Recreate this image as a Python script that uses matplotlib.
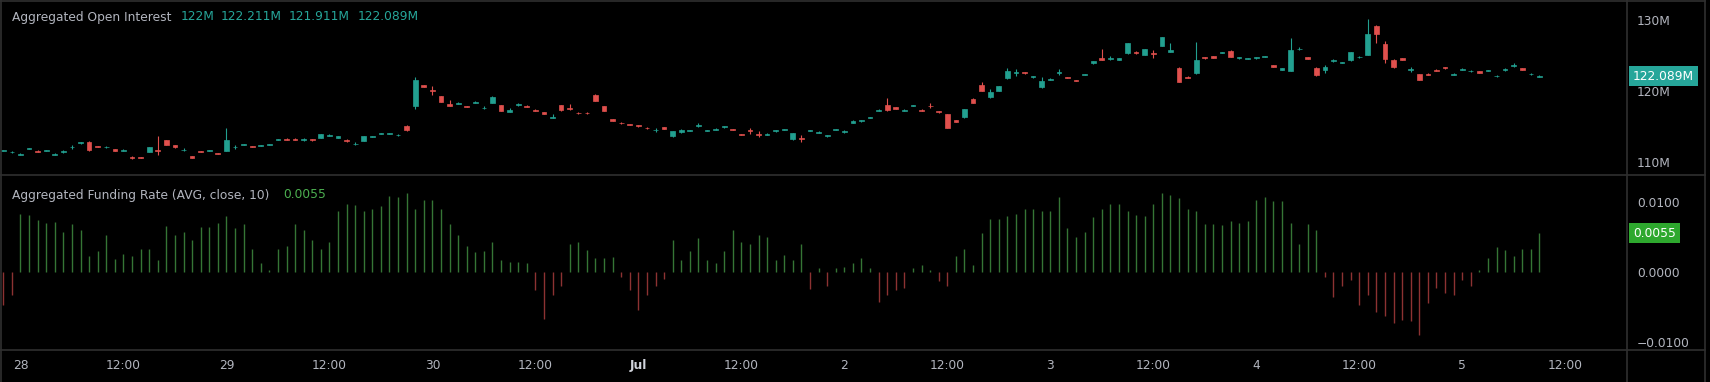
import pandas as pd
import matplotlib
matplotlib.use('Agg')
import matplotlib.pyplot as plt
import matplotlib.dates as mdates
import matplotlib.transforms as mtrans
from matplotlib.lines import Line2D

# hourly candles, first one 27 Jun 22:00
start_time = '2024-06-27 22:00'

# aggregated open interest, millions
oi_open = [
    111.55, 111.35, 111.05, 111.85, 111.6, 111.55, 111.05, 111.35, 112.05, 112.65,
    112.8, 112.25, 112.05, 111.8, 111.6, 110.75, 110.65, 111.45, 111.75, 113.05,
    112.35, 111.65, 110.85, 111.55, 111.55, 111.25, 111.6, 112.05, 112.45, 112.25,
    112.25, 112.45, 113.15, 113.3, 113.3, 113.15, 113.2, 113.4, 113.65, 113.45,
    113.15, 112.5, 113.0, 113.55, 113.95, 113.95, 113.75, 115.1, 117.9, 120.85,
    120.15, 119.3, 118.15, 118.2, 117.85, 118.3, 117.55, 118.3, 118.0, 117.1,
    118.0, 117.95, 117.35, 117.0, 116.25, 118.0, 117.65, 116.95, 116.95, 119.5,
    117.9, 116.05, 115.55, 115.35, 115.15, 114.85, 114.45, 114.9, 113.6, 114.2,
    114.35, 115.05, 114.35, 114.5, 114.9, 114.65, 113.95, 114.5, 114.0, 113.8,
    114.3, 114.55, 113.2, 113.35, 114.35, 114.15, 113.6, 114.55, 114.2, 115.55,
    115.75, 116.25, 117.25, 118.1, 117.7, 117.25, 117.9, 117.35, 117.95, 117.2,
    116.7, 115.9, 116.3, 118.9, 120.8, 119.1, 120.0, 121.8, 122.55, 122.65,
    121.95, 120.5, 121.6, 122.55, 121.95, 121.55, 122.25, 123.9, 124.6, 124.55,
    124.4, 125.3, 125.55, 125.1, 125.35, 126.4, 125.5, 123.3, 122.0, 122.5,
    124.8, 124.9, 125.35, 125.7, 124.6, 124.5, 124.6, 124.85, 123.65, 122.95,
    122.8, 125.85, 124.75, 123.3, 123.0, 124.2, 123.95, 124.3, 124.75, 125.1,
    129.2, 126.6, 124.4, 124.6, 122.95, 122.4, 122.45, 123.0, 123.4, 122.3,
    123.0, 122.75, 122.75, 122.8, 122.05, 122.95, 123.55, 123.2, 122.35, 122.0,
]
oi_high = [
    111.7, 111.5, 111.2, 112.0, 111.65, 111.7, 111.2, 111.65, 112.4, 112.8,
    112.9, 112.3, 112.2, 111.85, 111.8, 110.8, 110.7, 112.15, 113.6, 113.1,
    112.4, 112.0, 110.9, 111.6, 111.7, 111.3, 114.8, 112.4, 112.6, 112.3,
    112.4, 112.6, 113.3, 113.35, 113.35, 113.4, 113.25, 114.0, 113.9, 113.65,
    113.2, 112.8, 113.65, 113.7, 114.1, 114.1, 114.0, 115.2, 122.0, 120.9,
    120.7, 119.35, 118.7, 118.4, 117.9, 118.55, 117.9, 119.25, 118.05, 117.6,
    118.25, 118.0, 117.4, 117.05, 116.7, 118.05, 118.2, 117.0, 117.0, 119.55,
    117.95, 116.1, 115.6, 115.4, 115.2, 114.9, 114.8, 114.95, 114.35, 114.6,
    114.5, 115.5, 114.5, 114.75, 115.1, 114.7, 114.0, 114.8, 114.3, 114.05,
    114.55, 114.7, 114.15, 113.8, 114.5, 114.3, 113.85, 114.7, 114.45, 115.85,
    115.9, 116.4, 117.4, 119.0, 117.75, 117.4, 118.1, 117.4, 118.3, 117.25,
    116.75, 115.95, 117.45, 118.95, 121.2, 120.3, 120.75, 123.3, 123.1, 122.7,
    122.15, 122.0, 121.8, 123.1, 122.0, 121.6, 122.4, 124.25, 125.9, 124.9,
    124.65, 126.75, 125.6, 125.95, 125.8, 127.65, 126.8, 123.35, 122.05, 126.9,
    124.85, 124.95, 125.5, 125.75, 124.8, 124.7, 124.8, 125.0, 123.7, 123.25,
    127.5, 126.2, 124.8, 123.35, 123.6, 124.45, 124.1, 125.55, 124.9, 130.2,
    129.25, 127.0, 124.45, 124.65, 123.4, 122.45, 122.5, 123.05, 123.45, 122.5,
    123.2, 122.9, 122.8, 123.0, 122.2, 123.3, 123.9, 123.25, 122.6, 122.211,
]
oi_low = [
    111.5, 111.3, 111.0, 111.8, 111.35, 111.5, 111.0, 111.3, 111.9, 112.6,
    111.6, 112.1, 112.0, 111.55, 111.55, 110.45, 110.5, 111.4, 111.0, 112.35,
    112.0, 111.6, 110.5, 111.35, 111.5, 111.1, 111.5, 111.9, 112.4, 112.1,
    112.2, 112.4, 113.1, 113.05, 113.05, 113.0, 113.0, 113.35, 113.6, 113.4,
    112.85, 112.45, 112.95, 113.5, 113.9, 113.9, 113.7, 114.4, 117.4, 120.5,
    119.5, 118.45, 117.9, 118.15, 117.7, 118.25, 117.5, 118.25, 117.15, 117.05,
    117.95, 117.75, 117.2, 116.75, 116.2, 117.25, 117.35, 116.8, 116.8, 118.55,
    117.15, 115.75, 115.4, 115.2, 115.0, 114.7, 114.2, 114.65, 113.55, 114.15,
    114.3, 115.0, 114.3, 114.45, 114.85, 114.5, 113.8, 114.0, 113.5, 113.75,
    114.25, 114.5, 113.15, 112.8, 114.3, 114.1, 113.55, 114.5, 114.15, 115.5,
    115.7, 116.2, 117.2, 117.25, 117.45, 117.2, 117.85, 117.2, 117.6, 116.95,
    114.75, 115.65, 116.25, 118.25, 119.95, 119.05, 119.95, 121.75, 122.1, 122.45,
    121.9, 120.45, 121.55, 122.2, 121.8, 121.4, 122.2, 123.85, 124.35, 124.4,
    124.35, 125.25, 125.25, 125.05, 124.6, 126.35, 125.45, 121.25, 121.8, 122.45,
    124.55, 124.65, 125.3, 124.75, 124.55, 124.45, 124.55, 124.8, 123.35, 122.9,
    122.75, 125.8, 124.45, 122.15, 122.6, 124.15, 123.9, 124.25, 124.7, 125.05,
    126.8, 124.0, 123.3, 124.35, 122.7, 121.55, 122.25, 122.8, 123.15, 122.25,
    122.95, 122.7, 122.55, 122.75, 122.0, 122.8, 123.4, 122.95, 122.2, 121.911,
]
oi_close = [
    111.65, 111.45, 111.15, 111.95, 111.4, 111.65, 111.15, 111.6, 112.15, 112.75,
    111.65, 112.15, 112.15, 111.6, 111.75, 110.5, 110.55, 112.1, 111.55, 112.4,
    112.05, 111.75, 110.55, 111.4, 111.65, 111.15, 113.1, 112.15, 112.55, 112.15,
    112.35, 112.55, 113.25, 113.1, 113.1, 113.25, 113.05, 113.95, 113.75, 113.6,
    112.9, 112.55, 113.6, 113.65, 114.05, 114.05, 113.85, 114.5, 121.5, 120.55,
    120.05, 118.5, 117.95, 118.35, 117.75, 118.5, 117.65, 119.2, 117.2, 117.3,
    118.2, 117.8, 117.25, 116.8, 116.4, 117.3, 117.4, 116.85, 116.85, 118.6,
    117.2, 115.8, 115.45, 115.25, 115.05, 114.75, 114.55, 114.7, 114.3, 114.55,
    114.45, 115.25, 114.45, 114.7, 115.05, 114.55, 113.85, 114.35, 113.85, 114.0,
    114.5, 114.65, 114.1, 113.25, 114.45, 114.25, 113.8, 114.65, 114.4, 115.8,
    115.85, 116.35, 117.35, 117.3, 117.5, 117.35, 118.05, 117.25, 117.85, 117.0,
    114.8, 115.7, 117.4, 118.3, 120.0, 119.9, 120.7, 122.8, 122.65, 122.5,
    122.1, 121.4, 121.75, 122.65, 121.85, 121.45, 122.35, 124.2, 124.4, 124.65,
    124.6, 126.7, 125.3, 125.9, 125.25, 127.6, 125.8, 121.3, 121.85, 124.3,
    124.6, 124.7, 125.45, 124.8, 124.75, 124.65, 124.75, 124.95, 123.4, 123.2,
    125.8, 125.95, 124.5, 122.2, 123.35, 124.4, 124.05, 125.5, 124.85, 128.0,
    128.1, 124.5, 123.4, 124.4, 123.05, 121.6, 122.3, 122.85, 123.2, 122.45,
    123.15, 122.85, 122.6, 122.95, 122.15, 123.05, 123.65, 123.0, 122.45, 122.089,
]

# aggregated funding rate, units of 1e-4
funding_e4 = [
    -48, -33, 83, 81, 74, 69, 71, 57, 68, 60,
    22, 30, 52, 18, 25, 22, 33, 33, 17, 65,
    52, 57, 45, 64, 64, 69, 80, 62, 68, 33,
    12, 2, 33, 37, 68, 60, 45, 33, 43, 86,
    97, 95, 86, 90, 94, 108, 106, 113, 90, 102,
    102, 89, 68, 52, 37, 28, 29, 43, 17, 14,
    14, 12, -26, -67, -33, -21, 40, 43, 31, 19,
    19, 21, -7, -26, -55, -33, -21, -10, 45, 17,
    29, 48, 17, 12, 29, 60, 43, 40, 52, 50,
    17, 24, 17, 40, -25, 5, -21, 5, 7, 12,
    19, 5, -43, -33, -26, -24, 5, 10, 2, -14,
    -21, 22, 33, 10, 55, 75, 75, 80, 83, 89,
    89, 86, 87, 107, 62, 50, 57, 78, 89, 97,
    97, 87, 81, 80, 97, 112, 110, 105, 90, 86,
    68, 68, 67, 73, 69, 73, 103, 107, 101, 101,
    69, 40, 68, 60, -7, -36, -21, -12, -48, -33,
    -57, -64, -74, -69, -71, -90, -45, -24, -31, -33,
    -12, -21, 2, 19, 35, 31, 22, 32, 33, 55,
]

tick_labels = ['28', '12:00', '29', '12:00', '30', '12:00', 'Jul', '12:00',
               '2', '12:00', '3', '12:00', '4', '12:00', '5', '12:00']
oi_ticks = [110, 120, 130]
fr_ticks = [-0.01, 0.0, 0.01]

UP = '#26a69a'
DOWN = '#ef5350'
TXT = '#b2b5be'
LINE = '#2f2f2f'
W, H = 1710, 382

times = pd.date_range(start_time, periods=len(oi_close), freq='h')
x = mdates.date2num(times)
hour = 1 / 24
funding = [v / 10000 for v in funding_e4]

fig = plt.figure(figsize=(W / 100, H / 100), dpi=100, facecolor='black')
ax = fig.add_axes([0, 1 - 175 / H, 1627 / W, 175 / H], facecolor='black')
ax2 = fig.add_axes([0, 1 - 350 / H, 1627 / W, 175 / H], facecolor='black', sharex=ax)

# candles
cols = ['#22a090' if c >= o else '#e0504d' for o, c in zip(oi_open, oi_close)]
ax.vlines(x, oi_low, oi_high, colors=cols, linewidth=0.8)
ax.bar(x, [c - o for o, c in zip(oi_open, oi_close)], bottom=oi_open,
       width=0.55 * hour, color=cols, edgecolor=cols, linewidth=0.5)

# funding histogram
fcols = ['#357535' if v >= 0 else '#8c3232' for v in funding]
ax2.vlines(x, 0, funding, colors=fcols, linewidth=1.0)

ax.set_xlim(x[0] - 0.385 * hour, x[0] + 189.2 * hour)
ax.set_ylim(108.17, 132.82)
ax2.set_ylim(-0.01119, 0.01381)

for a in (ax, ax2):
    for s in a.spines.values():
        s.set_visible(False)
    a.yaxis.tick_right()
    a.tick_params(axis='y', length=0, pad=7.2, labelsize=8.8, labelcolor=TXT)

ax.set_yticks(oi_ticks)
ax.set_yticklabels([f'{t}M' for t in oi_ticks])
ax2.set_yticks(fr_ticks)
ax2.set_yticklabels([f'{t:.4f}'.replace('-', '\u2212') for t in fr_ticks])
ax.tick_params(axis='x', bottom=False, labelbottom=False)

tick_times = pd.date_range(times[0].normalize() + pd.Timedelta(days=1),
                           periods=len(tick_labels), freq='12h')
ax2.set_xticks(mdates.date2num(tick_times))
ax2.set_xticklabels(tick_labels)
ax2.tick_params(axis='x', length=0, pad=6.5, labelsize=8.8, labelcolor=TXT)
for lab in ax2.get_xticklabels():
    if lab.get_text() == 'Jul':
        lab.set_fontweight('bold')
        lab.set_color('#d1d4dc')

# legends
fig.text(12 / W, 1 - 17 / H, 'Aggregated Open Interest', color=TXT, fontsize=8.8, va='center')
vals = [oi_open[-1], oi_high[-1], oi_low[-1], oi_close[-1]]
for px, v in zip([181, 221, 289, 358], vals):
    fig.text(px / W, 1 - 17 / H, f'{v:g}M', color=UP, fontsize=8.8, va='center')
fig.text(12 / W, 1 - 195 / H, 'Aggregated Funding Rate (AVG, close, 10)', color=TXT,
         fontsize=8.8, va='center')
fig.text(283 / W, 1 - 195 / H, f'{funding[-1]:.4f}', color='#4caf50', fontsize=8.8, va='center')

# last value labels on price scales
tr1 = mtrans.blended_transform_factory(fig.transFigure, ax.transData)
ax.text(1633 / W, oi_close[-1], f'{oi_close[-1]:.3f}M', transform=tr1, color='white',
        fontsize=8.8, va='center', ha='left', clip_on=False, zorder=5,
        bbox=dict(boxstyle='square,pad=0.3', fc=UP, ec='none'))
tr2 = mtrans.blended_transform_factory(fig.transFigure, ax2.transData)
ax2.text(1633 / W, funding[-1], f'{funding[-1]:.4f}', transform=tr2, color='white',
         fontsize=8.8, va='center', ha='left', clip_on=False, zorder=5,
         bbox=dict(boxstyle='square,pad=0.3', fc='#2ea82e', ec='none'))


# pane borders
def hline(py, x0=0, x1=1705):
    fig.add_artist(Line2D([x0 / W, x1 / W], [1 - py / H] * 2, color=LINE, lw=1.2))


def vline(px, y0=0, y1=H):
    fig.add_artist(Line2D([px / W] * 2, [1 - y0 / H, 1 - y1 / H], color=LINE, lw=1.2))


hline(0.5)
hline(175)
hline(350)
vline(0.5)
vline(1627)
vline(1705)

fig.savefig('out.png', dpi=100, facecolor='black')
